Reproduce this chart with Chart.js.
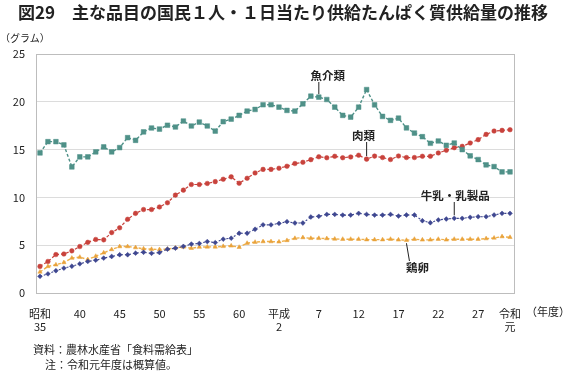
<!DOCTYPE html>
<html>
<head>
<meta charset="utf-8">
<script src="https://cdn.jsdelivr.net/npm/chart.js@4"></script>
<style>
  body { margin: 0; background: #fff; }
  #wrap { position: relative; width: 566px; height: 371px; font-family: "Noto Sans CJK JP", sans-serif; color: #222; }
  canvas { position: absolute; left: 0; top: 0; }
  .t { position: absolute; white-space: nowrap; }
  #title { left: 18px; top: -1px; font-size: 17px; font-weight: bold; letter-spacing: 0px; }
  #unit { left: 0px; top: 30px; font-size: 10px; }
  #nendo { left: 526px; top: 303px; font-size: 11px; }
  #src { left: 33px; top: 341px; font-size: 11px; }
  #note { left: 45px; top: 356px; font-size: 11px; }
</style>
</head>
<body>
<div id="wrap">
  <canvas id="c" width="566" height="371"></canvas>
  <div class="t" id="title">図29　主な品目の国民１人・１日当たり供給たんぱく質供給量の推移</div>
  <div class="t" id="unit">（グラム）</div>
  <div class="t" id="nendo">（年度）</div>
  <div class="t" id="src">資料：農林水産省「食料需給表」</div>
  <div class="t" id="note">注：令和元年度は概算値。</div>
</div>
<script>
// --- DATA ---
// 年度 1960(昭和35) 〜 2019(令和元)
const years = Array.from({length: 60}, (_, i) => 1960 + i);
const tickYears = [1960, 1965, 1970, 1975, 1980, 1985, 1990, 1995, 2000, 2005, 2010, 2015, 2019];
const tickLabels = [['昭和', '35'], '40', '45', '50', '55', '60', ['平成', '2'], '7', '12', '17', '22', '27', ['令和', '元']];

const fish = [
  14.65, 15.83, 15.83, 15.49, 13.19, 14.24, 14.24, 14.76, 15.28, 14.76, 15.21, 16.25, 15.97, 16.85, 17.26,
  17.15, 17.55, 17.36, 17.99, 17.47, 17.88, 17.47, 16.94, 17.92, 18.19, 18.58, 19.03, 19.2, 19.69, 19.69,
  19.44, 19.1, 19.03, 19.79, 20.59, 20.49, 20.24, 19.44, 18.58, 18.4, 19.44, 21.28, 19.68, 18.47, 18.06,
  18.29, 17.27, 16.73, 16.35, 15.66, 15.9, 15.45, 15.69, 15.0, 14.35, 13.96, 13.4, 13.22, 12.67, 12.67
];
const meat = [
  2.78, 3.3, 4.02, 4.08, 4.41, 4.86, 5.3, 5.6, 5.56, 6.32, 6.82, 7.71, 8.33, 8.73, 8.73,
  9.0, 9.44, 10.24, 10.76, 11.35, 11.35, 11.46, 11.65, 11.9, 12.15, 11.48, 12.0, 12.56, 12.93, 12.93,
  13.05, 13.26, 13.54, 13.67, 13.95, 14.25, 14.15, 14.3, 14.15, 14.23, 14.41, 14.0, 14.32, 14.17, 13.96,
  14.33, 14.17, 14.17, 14.3, 14.3, 14.65, 14.93, 15.2, 15.34, 15.69, 16.04, 16.59, 16.94, 17.01, 17.08
];
const milk = [
  1.74, 2.0, 2.33, 2.6, 2.8, 3.05, 3.3, 3.43, 3.65, 3.82, 4.0, 4.0, 4.17, 4.26, 4.15,
  4.23, 4.58, 4.69, 4.88, 5.12, 5.18, 5.38, 5.27, 5.63, 5.73, 6.25, 6.25, 6.67, 7.13, 7.13,
  7.28, 7.46, 7.32, 7.32, 7.95, 8.02, 8.22, 8.22, 8.15, 8.15, 8.33, 8.22, 8.15, 8.15, 8.22,
  8.05, 8.16, 8.16, 7.56, 7.35, 7.64, 7.74, 7.81, 7.81, 7.92, 7.98, 7.98, 8.16, 8.33, 8.33
];
const egg = [
  2.2, 2.78, 2.95, 3.19, 3.65, 3.75, 3.5, 3.85, 4.2, 4.55, 4.86, 4.86, 4.75, 4.63, 4.58,
  4.55, 4.6, 4.72, 4.82, 4.68, 4.8, 4.82, 4.82, 4.88, 4.93, 4.79, 5.21, 5.32, 5.38, 5.38,
  5.35, 5.5, 5.72, 5.8, 5.72, 5.72, 5.7, 5.65, 5.63, 5.63, 5.63, 5.58, 5.58, 5.58, 5.63,
  5.56, 5.52, 5.63, 5.56, 5.56, 5.63, 5.56, 5.63, 5.63, 5.63, 5.63, 5.69, 5.76, 5.9, 5.83
];

const FONT = '"Noto Sans CJK JP", sans-serif';

// 系列名の注記（引き出し線つき）
const seriesNotes = {
  id: 'seriesNotes',
  afterDatasetsDraw(chart) {
    const {ctx, scales: {x, y}} = chart;
    const notes = [
      {text: '魚介類', data: fish, i: 35, dx: 9, top: 82, textY: 76, below: false},
      {text: '肉類', data: meat, i: 41, dx: -3, top: 142, textY: 136, below: false},
      {text: '牛乳・乳製品', data: milk, i: 52, dx: 1, top: 202, textY: 196, below: false},
      {text: '鶏卵', data: egg, i: 46, dx: 11, top: 261, textY: 268, below: true}
    ];
    ctx.save();
    ctx.font = 'bold 11.5px ' + FONT;
    ctx.fillStyle = '#222';
    ctx.strokeStyle = '#222';
    ctx.lineWidth = 1;
    ctx.textAlign = 'center';
    ctx.textBaseline = 'middle';
    notes.forEach(n => {
      const px = x.getPixelForValue(n.i);
      const py = y.getPixelForValue(n.data[n.i]);
      ctx.beginPath();
      if (n.below) {
        ctx.moveTo(px, py + 3);
        ctx.lineTo(px + 3, n.top);
      } else {
        ctx.moveTo(px, py - 3);
        ctx.lineTo(px, n.top);
      }
      ctx.stroke();
      ctx.fillText(n.text, px + n.dx, n.textY);
    });
    ctx.restore();
  }
};

// 枠線
const frame = {
  id: 'frame',
  beforeDatasetsDraw(chart) {
    const {ctx, chartArea: a} = chart;
    ctx.save();
    ctx.strokeStyle = '#bdbdbd';
    ctx.lineWidth = 1;
    ctx.strokeRect(Math.round(a.left) + 0.5, Math.round(a.top) + 0.5, Math.round(a.right - a.left), Math.round(a.bottom - a.top));
    ctx.restore();
  }
};

function line(label, data, color, style, radius, fill, width, dash) {
  return {
    label, data,
    borderColor: color,
    borderWidth: width,
    borderDash: dash,
    pointStyle: style,
    pointRadius: radius,
    pointBackgroundColor: fill,
    pointBorderColor: fill,
    pointBorderWidth: 0.5,
    tension: 0
  };
}

new Chart(document.getElementById('c'), {
  type: 'line',
  data: {
    labels: years,
    datasets: [
      line('魚介類', fish, '#4f9188', 'rect', 3.3, '#4f9188', 1.4, [3, 2]),
      line('肉類', meat, '#c8423c', 'circle', 2.3, '#c8423c', 1.2, [3, 2]),
      line('牛乳・乳製品', milk, '#3e4790', 'rectRot', 2.4, '#3e4790', 1.1, [2, 2]),
      line('鶏卵', egg, '#efb04a', 'triangle', 2.5, '#e9a23b', 1.4, [3, 2])
    ]
  },
  options: {
    responsive: false,
    animation: false,
    layout: { padding: { left: 0, right: 52, top: 54, bottom: 0 } },
    plugins: { legend: { display: false }, tooltip: { enabled: false } },
    scales: {
      x: {
        type: 'category',
        offset: true,
        grid: { display: false },
        border: { display: false },
        ticks: {
          autoSkip: false,
          maxRotation: 0,
          padding: 6,
          color: '#222',
          font: { family: FONT, size: 11 },
          callback: (v, i) => {
            const k = tickYears.indexOf(years[i]);
            return k >= 0 ? tickLabels[k] : null;
          }
        },
        afterFit: s => { s.height = 78; }
      },
      y: {
        min: 0, max: 25,
        grid: { color: '#dcdcdc', drawTicks: false },
        border: { display: false },
        ticks: { stepSize: 5, padding: 11, color: '#222', font: { family: FONT, size: 11 } },
        afterFit: s => { s.width = 36; }
      }
    }
  },
  plugins: [frame, seriesNotes]
});
</script>
</body>
</html>
